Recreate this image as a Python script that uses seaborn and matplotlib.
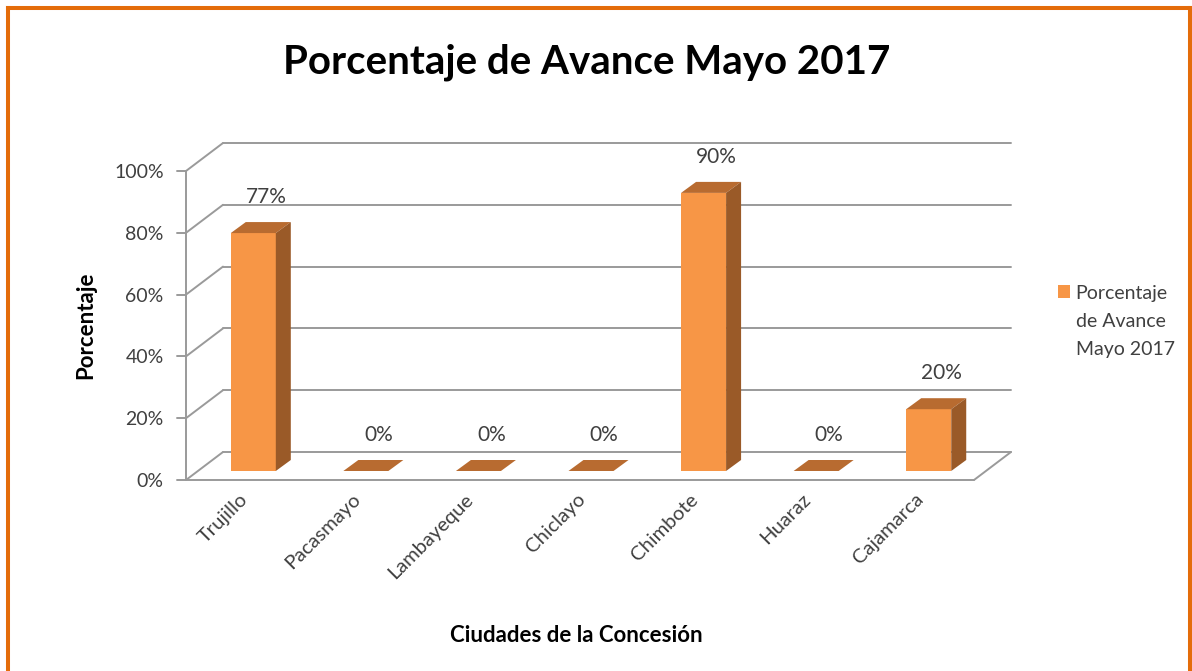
import matplotlib
matplotlib.use("Agg")
import seaborn as sns
import pandas as pd
from matplotlib import pyplot as plt
from matplotlib.lines import Line2D
from matplotlib.patches import Polygon
from matplotlib.transforms import IdentityTransform, ScaledTranslation
from matplotlib.ticker import PercentFormatter

# data
cities = ["Trujillo", "Pacasmayo", "Lambayeque", "Chiclayo", "Chimbote", "Huaraz", "Cajamarca"]
avance = [0.77, 0.0, 0.0, 0.0, 0.90, 0.0, 0.20]
y_ticks = [0.0, 0.2, 0.4, 0.6, 0.8, 1.0]
series_name = "Porcentaje de Avance Mayo 2017"

FRONT = (-11, -9)   # pixel shift of the front plane
BACK = (26, 19)     # pixel shift of the back wall
DEPTH = (15, 11)    # bar depth
GRID = "#9a9a9a"
FACE = "#F79646"
TOP = "#B86B30"
SIDE = "#9A5A28"

sns.set_style("white")
plt.rcParams["font.family"] = ["Lato", "DejaVu Sans"]

fig = plt.figure(figsize=(11.92, 6.71), dpi=100)
ax = fig.add_axes([197 / 1192, 200 / 671, 788 / 1192, 309 / 671])

df = pd.DataFrame({"city": cities, "avance": avance})
sns.barplot(data=df, x="city", y="avance", color=FACE, saturation=1, width=0.4,
            ax=ax, label=series_name)
ax.set_xlim(-0.5, len(cities) - 0.5)
ax.set_ylim(0, 1)
sns.despine(ax=ax, left=True, bottom=True)
ax.grid(False)


def px(x, y, shift=(0, 0)):
    X, Y = ax.transData.transform((x, y))
    return X + shift[0], Y + shift[1]


def line(p, q, **kw):
    ax.add_line(Line2D([p[0], q[0]], [p[1], q[1]], transform=IdentityTransform(),
                       clip_on=False, color=GRID, lw=1.4, zorder=0.5, **kw))


x0, x1 = -0.5, len(cities) - 0.5
for t in y_ticks:
    line(px(x0, t, BACK), px(x1, t, BACK))
    line(px(x0, t, FRONT), px(x0, t, BACK))
    line(px(x0, t, FRONT), (px(x0, t, FRONT)[0] - 9, px(x0, t, FRONT)[1]))
line(px(x0, 0, FRONT), px(x1, 0, FRONT))
line(px(x1, 0, FRONT), px(x1, 0, BACK))
line(px(x0, 0, FRONT), px(x0, 1, FRONT))

# 3D faces on top of seaborn's bars
for patch in ax.patches:
    patch.set_zorder(2)
    patch.set_edgecolor("none")
    bx, by = patch.get_x(), patch.get_y()
    bw, bh = patch.get_width(), patch.get_height()
    a = px(bx, by + bh)
    b = px(bx + bw, by + bh)
    c = px(bx + bw, by)
    top = [a, b, (b[0] + DEPTH[0], b[1] + DEPTH[1]), (a[0] + DEPTH[0], a[1] + DEPTH[1])]
    side = [b, c, (c[0] + DEPTH[0], c[1] + DEPTH[1]), (b[0] + DEPTH[0], b[1] + DEPTH[1])]
    ax.add_patch(Polygon(top, closed=True, transform=IdentityTransform(), facecolor=TOP,
                         edgecolor="none", zorder=3, clip_on=False))
    if bh > 0:
        ax.add_patch(Polygon(side, closed=True, transform=IdentityTransform(), facecolor=SIDE,
                             edgecolor="none", zorder=3, clip_on=False))

for i, v in enumerate(avance):
    ax.annotate(f"{v:.0%}", xy=(i, v), xytext=(13 * 0.72, 36 * 0.72), textcoords="offset points",
                ha="center", va="center", fontsize=15, color="#404040")

# axes text
ax.set_yticks(y_ticks)
ax.yaxis.set_major_formatter(PercentFormatter(1, decimals=0))
ax.tick_params(axis="y", length=0, pad=24, labelsize=14, labelcolor="#404040")
for lab in ax.get_yticklabels():
    lab.set_transform(lab.get_transform() + ScaledTranslation(0, -0.09, fig.dpi_scale_trans))
ax.tick_params(axis="x", length=0, pad=14, labelsize=14.5, labelcolor="#404040")
for lab in ax.get_xticklabels():
    lab.set_rotation(45)
    lab.set_ha("right")
    lab.set_rotation_mode("anchor")
    lab.set_transform(lab.get_transform() + ScaledTranslation(-0.14, 0, fig.dpi_scale_trans))

ax.set_xlabel("Ciudades de la Concesión", fontsize=16, fontweight="bold", color="black")
ax.xaxis.set_label_coords(0.481, -0.498)
ax.set_ylabel("Porcentaje", fontsize=16, fontweight="bold", color="black")
ax.yaxis.set_label_coords(-0.128, 0.472)

fig.text(0.4925, 1 - 62 / 671, series_name, ha="center", va="center",
         fontsize=29, fontweight="bold", color="black")

handles, labels = ax.get_legend_handles_labels()
leg = ax.legend(handles, ["Porcentaje\nde Avance\nMayo 2017"], loc="upper left",
                bbox_to_anchor=(1050 / 1192, 1 - 277 / 671), bbox_transform=fig.transFigure,
                frameon=False, fontsize=14, handlelength=0.62, handleheight=0.62,
                handletextpad=0.3, labelcolor="#404040", borderaxespad=0)
for txt in leg.get_texts():
    txt.set_linespacing(1.8)
# keep the square next to the first line, as in the original
leg.legend_handles[0].set_y(leg.legend_handles[0].get_y() + 30 * 0.72)

# orange frame
orange = "#E46C0A"
fig.add_artist(Line2D([8 / 1192, 8 / 1192], [0, 1 - 8 / 671], color=orange, lw=2.9,
                      transform=fig.transFigure, solid_capstyle="projecting"))
fig.add_artist(Line2D([8 / 1192, 1190 / 1192], [1 - 8 / 671, 1 - 8 / 671], color=orange,
                      lw=2.9, transform=fig.transFigure, solid_capstyle="projecting"))
fig.add_artist(Line2D([1190 / 1192, 1190 / 1192], [0, 1 - 8 / 671], color=orange, lw=2.9,
                      transform=fig.transFigure, solid_capstyle="projecting"))

fig.savefig("out.png", dpi=100)
